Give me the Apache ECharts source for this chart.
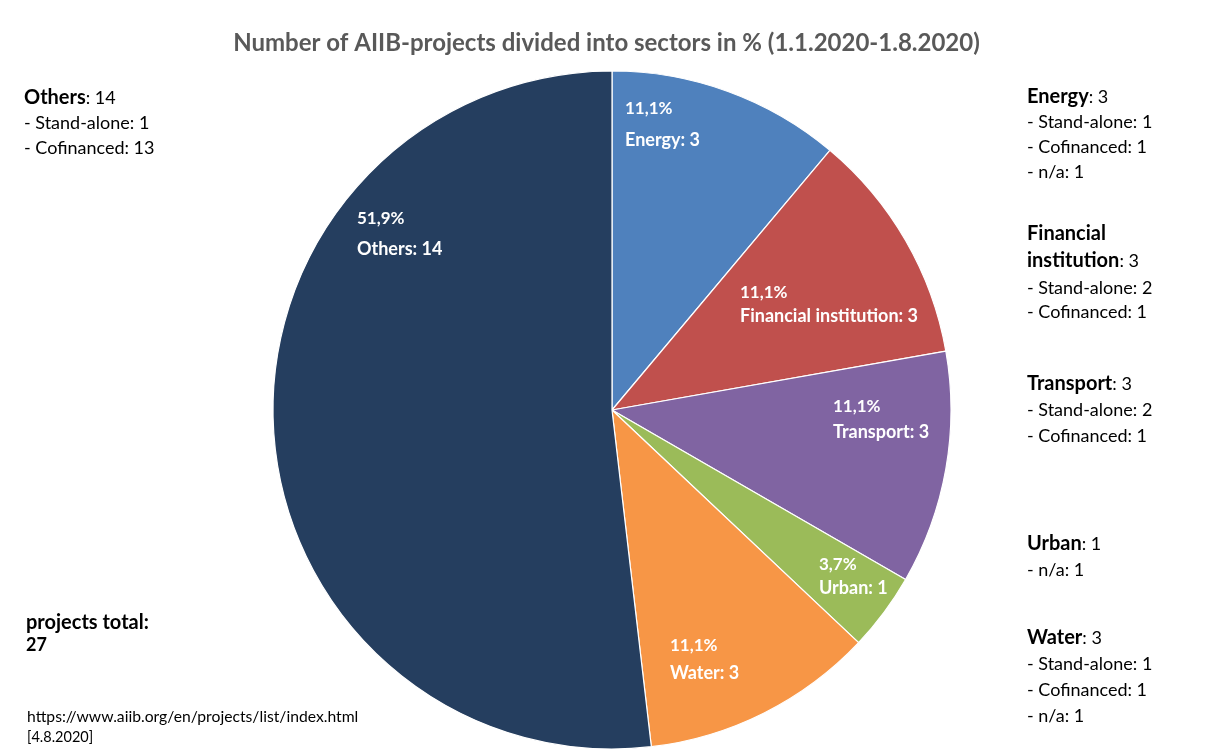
<!DOCTYPE html>
<html><head><meta charset="utf-8">
<script src="https://cdn.jsdelivr.net/npm/echarts@6/dist/echarts.min.js"></script>
<style>html,body{margin:0;padding:0;background:#fff}#c{width:1213px;height:756px}</style>
</head><body><div id="c"></div>
<script>
const categories = ['Energy', 'Financial institution', 'Transport', 'Urban', 'Water', 'Others'];
const values = [3, 3, 3, 1, 3, 14];
const colors = ['#4F81BD', '#C0504D', '#8064A2', '#9BBB59', '#F79646', '#253E5F'];
const titleText = 'Number of AIIB-projects divided into sectors in % (1.1.2020-1.8.2020)';
const total = values.reduce((a, b) => a + b, 0);

// label anchor (left, top) and line spacing per slice
const labelPos = [[625, 93.5, 31], [740, 281.5, 23], [833, 394.5, 25], [819, 553.5, 23], [670, 632.5, 27], [357, 204, 30]];

const FONT = 'Lato, "Open Sans", sans-serif';
const chart = echarts.init(document.getElementById('c'));

function line(x, cy, bold, rest) {
  return {
    type: 'text', x: x, y: cy,
    style: {
      text: (bold ? '{b|' + bold + '}' : '') + (rest ? '{r|' + rest + '}' : ''),
      verticalAlign: 'middle',
      rich: {
        b: { fontFamily: FONT, fontWeight: 'bold', fontSize: 20, fill: '#000' },
        r: { fontFamily: FONT, fontSize: 18, fill: '#000' }
      }
    }
  };
}

const graphics = [
  line(24, 98, 'Others', ': 14'), line(24, 123, '', '- Stand-alone: 1'), line(24, 148, '', '- Cofinanced: 13'),
  line(1027, 97, 'Energy', ': 3'), line(1027, 122, '', '- Stand-alone: 1'), line(1027, 147, '', '- Cofinanced: 1'), line(1027, 172, '', '- n/a: 1'),
  line(1027, 234, 'Financial', ''), line(1027, 261, 'institution', ': 3'), line(1027, 288, '', '- Stand-alone: 2'), line(1027, 312, '', '- Cofinanced: 1'),
  line(1027, 384, 'Transport', ': 3'), line(1027, 410, '', '- Stand-alone: 2'), line(1027, 436, '', '- Cofinanced: 1'),
  line(1027, 544, 'Urban', ': 1'), line(1027, 570, '', '- n/a: 1'),
  line(1027, 638, 'Water', ': 3'), line(1027, 664, '', '- Stand-alone: 1'), line(1027, 690, '', '- Cofinanced: 1'), line(1027, 716, '', '- n/a: 1'),
  line(26, 623, 'projects total:', ''),
  { type: 'text', x: 26, y: 645, style: { text: '27', verticalAlign: 'middle', fontFamily: FONT, fontWeight: 'bold', fontSize: 18, fill: '#000' } },
  { type: 'text', x: 27, y: 717, style: { text: 'https://www.aiib.org/en/projects/list/index.html', verticalAlign: 'middle', fontFamily: FONT, fontSize: 15.7, fill: '#000' } },
  { type: 'text', x: 27, y: 737, style: { text: '[4.8.2020]', verticalAlign: 'middle', fontFamily: FONT, fontSize: 14.5, fill: '#000' } }
];

chart.setOption({
  animation: false,
  title: {
    text: titleText, left: 'center', top: 26,
    textStyle: { fontFamily: FONT, fontWeight: 'bold', fontSize: 24, color: '#595959' }
  },
  graphic: graphics,
  series: [{
    type: 'pie',
    center: [612, 410],
    radius: 339,
    startAngle: 90,
    clockwise: true,
    silent: true,
    itemStyle: { borderColor: '#fff', borderWidth: 1.2 },
    label: {
      show: true, position: 'inside',
      formatter: p => '{p|' + (p.value / total * 100).toFixed(1).replace('.', ',') + '%}\n{n|' + p.name + ': ' + p.value + '}'
    },
    labelLine: { show: false },
    labelLayout: p => ({ x: labelPos[p.dataIndex][0], y: labelPos[p.dataIndex][1], align: 'left', verticalAlign: 'top' }),
    data: categories.map((c, i) => ({
      name: c, value: values[i],
      itemStyle: { color: colors[i] },
      label: {
        rich: {
          p: { fontFamily: FONT, fontWeight: 'bold', fontSize: 17, color: '#fff', lineHeight: labelPos[i][2], align: 'left' },
          n: { fontFamily: FONT, fontWeight: 'bold', fontSize: 18, color: '#fff', lineHeight: labelPos[i][2], align: 'left' }
        }
      }
    }))
  }]
});
</script></body></html>
